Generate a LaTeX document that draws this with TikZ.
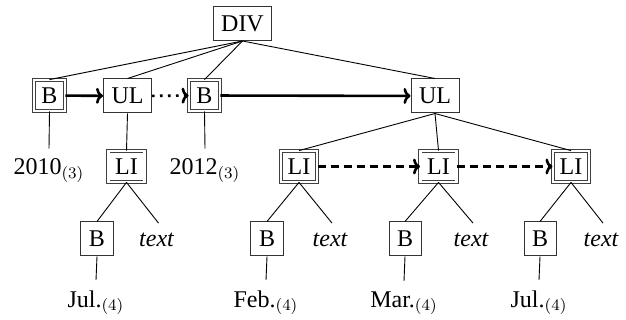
\documentclass[tikz,border=0pt]{standalone}
\usepackage{fontspec}
\setmainfont{Liberation Serif}
\usetikzlibrary{arrows.meta}
\begin{document}
\begin{tikzpicture}[x=0.5pt,y=-0.5pt,
  font=\fontsize{12}{14}\selectfont,
  box/.style={draw=black!80,line width=0.5pt,minimum height=17pt,inner xsep=4pt,inner ysep=0pt},
  dbox/.style={draw=black!75,line width=0.4pt,double,double distance=1.2pt,minimum height=15.5pt,minimum width=15.5pt,inner xsep=3.4pt,inner ysep=0pt},
  leaf/.style={inner sep=0pt,anchor=base},
  edge/.style={line width=0.45pt},
  link/.style={line width=1.3pt,-{To[length=3.5pt,width=8pt]}},
  dashlink/.style={link,dash pattern=on 4pt off 2.5pt},
  dotlink/.style={link,dash pattern=on 1.3pt off 2.7pt}]
\useasboundingbox (0,0) rectangle (626,320);

% top level
\node[box] (div) at (242.5,23.5) {DIV};
\node[dbox] (b1) at (49.5,95.5) {B};
\node[box] (ul1) at (127.5,96) {UL};
\node[dbox] (b2) at (204.5,95.5) {B};
\node[box] (ul2) at (435,96) {UL};

\node[leaf] (y2010) at (49,175) {2010$_{(3)}$};
\node[dbox] (li1) at (126.5,166.5) {LI};
\node[leaf] (y2012) at (205,175) {2012$_{(3)}$};
\node[dbox] (li2) at (299,166.5) {LI};
\node[dbox] (li3) at (438.5,166.5) {LI};
\node[dbox] (li4) at (571,166.5) {LI};

% list items
\node[box] (bj1) at (97,239) {B};
\node[leaf] (t1) at (156.5,247) {\itshape text};
\node[box] (bf) at (267,239) {B};
\node[leaf] (t2) at (330,247) {\itshape text};
\node[box] (bm) at (405,239) {B};
\node[leaf] (t3) at (471,247) {\itshape text};
\node[box] (bj2) at (540,239) {B};
\node[leaf] (t4) at (601,247) {\itshape text};

\node[leaf] (jul1) at (96,307) {Jul.$_{(4)}$};
\node[leaf] (feb) at (266,307) {Feb.$_{(4)}$};
\node[leaf] (mar) at (404,307) {Mar.$_{(4)}$};
\node[leaf] (jul2) at (539,307) {Jul.$_{(4)}$};

% tree edges
\foreach \c in {b1,ul1,b2,ul2} \draw[edge] (div.south) -- (\c.north);
\draw[edge] (b1.south) -- ([yshift=5pt]y2010.north);
\draw[edge] (b2.south) -- ([yshift=5pt]y2012.north);
\draw[edge] (ul1.south) -- (li1.north);
\foreach \c in {li2,li3,li4} \draw[edge] (ul2.south) -- (\c.north);
\foreach \p/\b/\t in {li1/bj1/t1,li2/bf/t2,li3/bm/t3,li4/bj2/t4}{
  \draw[edge] (\p.south) -- (\b.north);
  \draw[edge] (\p.south) -- ([xshift=1pt,yshift=5pt]\t.north);
}
\foreach \b/\m in {bj1/jul1,bf/feb,bm/mar,bj2/jul2}
  \draw[edge] (\b.south) -- ([yshift=5pt]\m.north);

% sibling links
\draw[link] (b1) -- (ul1);
\draw[dotlink] (ul1) -- (b2);
\draw[link] (b2) -- (ul2);
\draw[dashlink] (li2) -- (li3);
\draw[dashlink] (li3) -- (li4);
\end{tikzpicture}
\end{document}
